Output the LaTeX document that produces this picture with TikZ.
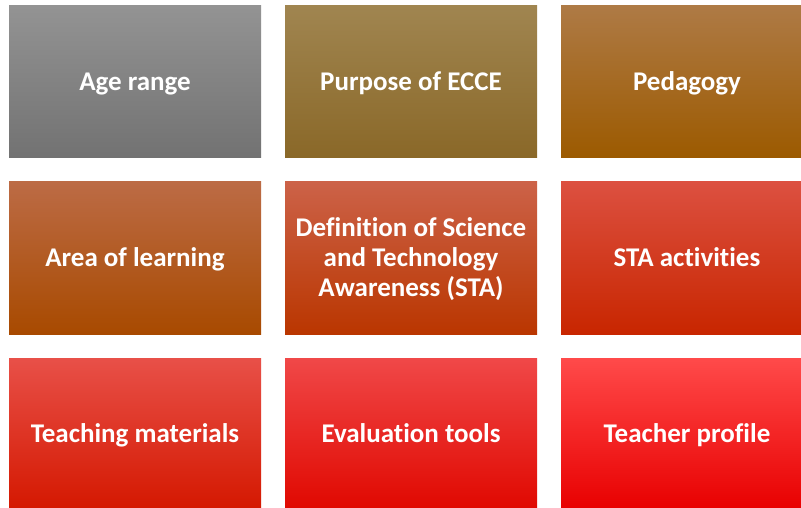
\documentclass[tikz,border=0pt]{standalone}
\usepackage{fontspec}
\setmainfont{Carlito}[Ligatures={NoCommon}]
\begin{document}
\begin{tikzpicture}[x=1pt,y=1pt,
  tile/.style={minimum width=252pt, minimum height=152pt, inner sep=0pt,
    shading=axis, shading angle=0, text=white, align=center,
    text height=17.4pt, text depth=0pt,
    font=\fontsize{27}{30}\selectfont\bfseries},
  threelines/.style={text height=77.4pt},
  tilecol/.style n args={3}{top color=#1, middle color=#2, bottom color=#3}]
\definecolor{gA1}{HTML}{939393}\definecolor{gA2}{HTML}{858585}\definecolor{gA3}{HTML}{727272}
\definecolor{gB1}{HTML}{A08550}\definecolor{gB2}{HTML}{94722F}\definecolor{gB3}{HTML}{8A6828}
\definecolor{gC1}{HTML}{AE7A45}\definecolor{gC2}{HTML}{A46000}\definecolor{gC3}{HTML}{9C5A00}
\definecolor{gD1}{HTML}{BC6B45}\definecolor{gD2}{HTML}{B45010}\definecolor{gD3}{HTML}{A84A00}
\definecolor{gE1}{HTML}{CC6248}\definecolor{gE2}{HTML}{C54000}\definecolor{gE3}{HTML}{BA3600}
\definecolor{gF1}{HTML}{DC5040}\definecolor{gF2}{HTML}{D82C00}\definecolor{gF3}{HTML}{C82600}
\definecolor{gG1}{HTML}{E85048}\definecolor{gG2}{HTML}{E02000}\definecolor{gG3}{HTML}{D41800}
\definecolor{gH1}{HTML}{F04848}\definecolor{gH2}{HTML}{F01008}\definecolor{gH3}{HTML}{E00800}
\definecolor{gI1}{HTML}{FF4A4A}\definecolor{gI2}{HTML}{F80000}\definecolor{gI3}{HTML}{E80000}
\useasboundingbox (0,0) rectangle (801,507);
\clip (0,0) rectangle (801,507);
\fill[white] (0,0) rectangle (801,507);
% row 1
\node[tile, tilecol={gA1}{gA2}{gA3}] (age)  at (135,425) {Age range};
\node[tile, tilecol={gB1}{gB2}{gB3}] (purp) at (411,425) {Purpose of ECCE};
\node[tile, tilecol={gC1}{gC2}{gC3}] (ped)  at (687,425) {Pedagogy};
% row 2
\node[tile, tilecol={gD1}{gD2}{gD3}] (area) at (135,249) {Area of learning};
\node[tile, threelines, tilecol={gE1}{gE2}{gE3}] (def)  at (411,249) {Definition of Science\\and Technology\\Awareness (STA)};
\node[tile, tilecol={gF1}{gF2}{gF3}] (act)  at (687,249) {STA activities};
% row 3
\node[tile, tilecol={gG1}{gG2}{gG3}] (mat)  at (135,73) {Teaching materials};
\node[tile, tilecol={gH1}{gH2}{gH3}] (eval) at (411,73) {Evaluation tools};
\node[tile, tilecol={gI1}{gI2}{gI3}] (prof) at (687,73) {Teacher profile};
\end{tikzpicture}
\end{document}
